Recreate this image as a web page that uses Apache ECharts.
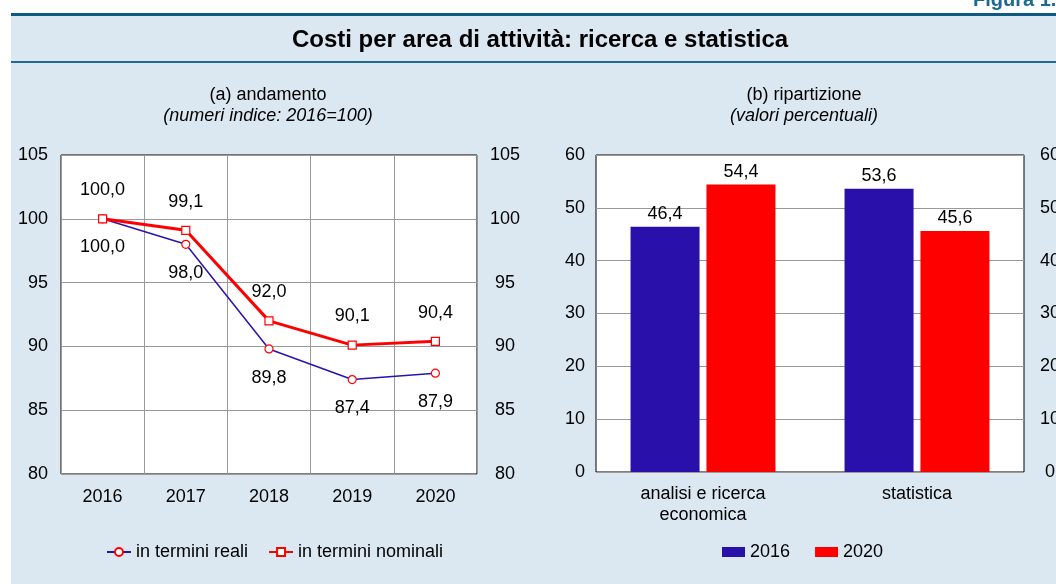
<!DOCTYPE html>
<html>
<head>
<meta charset="utf-8">
<script src="https://cdn.jsdelivr.net/npm/echarts@6/dist/echarts.min.js"></script>
<style>
  body { margin: 0; background: #fff; }
  #panel { position: absolute; left: 11px; top: 13px; width: 1045px; height: 571px; background: #dce8f1; }
  #chart { position: absolute; left: 0; top: 0; width: 1056px; height: 584px; }
</style>
</head>
<body>
<div id="panel"></div>
<div id="chart"></div>
<script>
// dati (a) andamento - numeri indice 2016=100
var anni = ['2016', '2017', '2018', '2019', '2020'];
var reali = [100.0, 98.0, 89.8, 87.4, 87.9];
var nominali = [100.0, 99.1, 92.0, 90.1, 90.4];

// dati (b) ripartizione - valori percentuali
var aree = ['analisi e ricerca\neconomica', 'statistica'];
var quota2016 = [46.4, 53.6];
var quota2020 = [54.4, 45.6];

var FONT = '"Liberation Sans", Arial, sans-serif';
var FS = 18;

function virgola(p) {
    return p.value.toFixed(1).replace('.', ',');
}

var chart = echarts.init(document.getElementById('chart'));

var axisLbl = { fontSize: FS, color: '#000', fontFamily: FONT };

var option = {
    animation: false,
    textStyle: { fontFamily: FONT },
    title: [
        {
            text: 'Costi per area di attività: ricerca e statistica',
            left: 540, top: 28, textAlign: 'center', padding: 0,
            textStyle: { fontSize: 24, fontWeight: 'bold', color: '#000', fontFamily: FONT }
        },
        {
            text: '(a) andamento',
            subtext: '(numeri indice: 2016=100)',
            left: 268, top: 86, textAlign: 'center', padding: 0, itemGap: 3,
            textStyle: { fontSize: FS, fontWeight: 'normal', color: '#000', fontFamily: FONT },
            subtextStyle: { fontSize: FS, fontStyle: 'italic', color: '#000', fontFamily: FONT }
        },
        {
            text: '(b) ripartizione',
            subtext: '(valori percentuali)',
            left: 804, top: 86, textAlign: 'center', padding: 0, itemGap: 3,
            textStyle: { fontSize: FS, fontWeight: 'normal', color: '#000', fontFamily: FONT },
            subtextStyle: { fontSize: FS, fontStyle: 'italic', color: '#000', fontFamily: FONT }
        }
    ],
    graphic: [
        { type: 'line', shape: { x1: 11, y1: 14.5, x2: 1056, y2: 14.5 }, style: { stroke: '#0d5a82', lineWidth: 3 } },
        { type: 'line', shape: { x1: 11, y1: 62, x2: 1056, y2: 62 }, style: { stroke: '#1e6b94', lineWidth: 2 } },
        {
            type: 'text', x: 973, y: 0,
            style: { text: 'Figura 1.', font: 'bold 20px ' + FONT, fill: '#1a6a94', verticalAlign: 'middle' }
        }
    ],
    legend: [
        {
            data: ['in termini reali', 'in termini nominali'],
            left: 106, top: 543, padding: 0, itemWidth: 24, itemHeight: 10, itemGap: 20,
            textStyle: { fontSize: FS, color: '#000', fontFamily: FONT }
        },
        {
            data: ['2016', '2020'],
            left: 722, top: 543, padding: 0, itemWidth: 23, itemHeight: 10, itemGap: 25, icon: 'rect',
            textStyle: { fontSize: FS, color: '#000', fontFamily: FONT }
        }
    ],
    grid: [
        { left: 61, top: 155, width: 416, height: 319, outerBoundsMode: 'none', show: true, backgroundColor: '#fff', borderColor: '#000', borderWidth: 1 },
        { left: 596, top: 155, width: 428, height: 317, outerBoundsMode: 'none', show: true, backgroundColor: '#fff', borderColor: '#000', borderWidth: 1 }
    ],
    xAxis: [
        {
            type: 'category', gridIndex: 0, data: anni,
            axisLine: { show: false }, axisTick: { show: false },
            axisLabel: Object.assign({ margin: 14 }, axisLbl),
            splitLine: { show: true, lineStyle: { color: '#999', width: 1 } }
        },
        {
            type: 'category', gridIndex: 1, data: aree,
            axisLine: { show: false }, axisTick: { show: false },
            axisLabel: Object.assign({ margin: 12, lineHeight: 21 }, axisLbl)
        }
    ],
    yAxis: [
        {
            type: 'value', gridIndex: 0, position: 'left', min: 80, max: 105, interval: 5,
            axisLine: { show: false }, axisTick: { show: false },
            axisLabel: Object.assign({ margin: 13 }, axisLbl),
            splitLine: { lineStyle: { color: '#999', width: 1 } }
        },
        {
            type: 'value', gridIndex: 0, position: 'right', min: 80, max: 105, interval: 5,
            axisLine: { show: false }, axisTick: { show: false },
            axisLabel: Object.assign({ margin: 28, align: 'center' }, axisLbl),
            splitLine: { show: false }
        },
        {
            type: 'value', gridIndex: 1, position: 'left', min: 0, max: 60, interval: 10,
            axisLine: { show: false }, axisTick: { show: false },
            axisLabel: Object.assign({ margin: 11 }, axisLbl),
            splitLine: { lineStyle: { color: '#999', width: 1 } }
        },
        {
            type: 'value', gridIndex: 1, position: 'right', min: 0, max: 60, interval: 10,
            axisLine: { show: false }, axisTick: { show: false },
            axisLabel: Object.assign({ margin: 26, align: 'center' }, axisLbl),
            splitLine: { show: false }
        }
    ],
    series: [
        {
            name: 'in termini reali', type: 'line', xAxisIndex: 0, yAxisIndex: 0, data: reali,
            symbol: 'circle', symbolSize: 8, z: 3,
            lineStyle: { color: '#2b12b0', width: 1.5 },
            itemStyle: { color: '#fff', borderColor: '#ff0000', borderWidth: 1.2 },
            label: { show: true, position: 'bottom', distance: 15, fontSize: FS, color: '#000', fontFamily: FONT, formatter: virgola }
        },
        {
            name: 'in termini nominali', type: 'line', xAxisIndex: 0, yAxisIndex: 0, data: nominali,
            symbol: 'rect', symbolSize: 8, z: 4,
            lineStyle: { color: '#ff0000', width: 3 },
            itemStyle: { color: '#fff', borderColor: '#ff0000', borderWidth: 1.2 },
            label: { show: true, position: 'top', distance: 15, fontSize: FS, color: '#000', fontFamily: FONT, formatter: virgola }
        },
        {
            name: '2016', type: 'bar', xAxisIndex: 1, yAxisIndex: 2, data: quota2016,
            barWidth: 69, barGap: '10%',
            itemStyle: { color: '#2a10aa' },
            label: { show: true, position: 'top', distance: 4, fontSize: FS, color: '#000', fontFamily: FONT, formatter: virgola }
        },
        {
            name: '2020', type: 'bar', xAxisIndex: 1, yAxisIndex: 2, data: quota2020,
            barWidth: 69, barGap: '10%',
            itemStyle: { color: '#ff0000' },
            label: { show: true, position: 'top', distance: 4, fontSize: FS, color: '#000', fontFamily: FONT, formatter: virgola }
        }
    ]
};

chart.setOption(option);
</script>
</body>
</html>
